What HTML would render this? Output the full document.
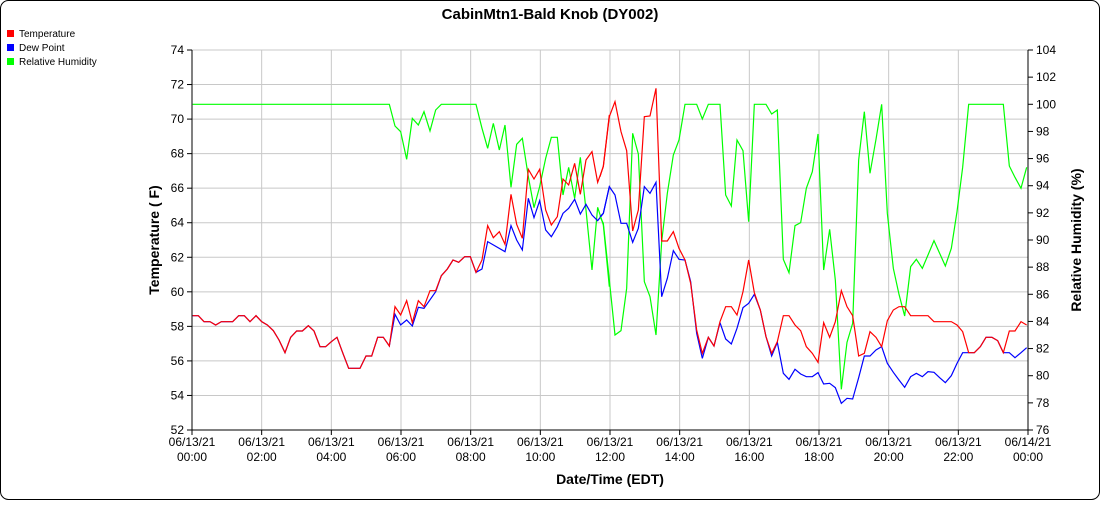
<!DOCTYPE html>
<html><head><style>body{margin:0;background:#fff}</style></head><body>
<svg width="1100" height="500" xmlns="http://www.w3.org/2000/svg" font-family="Liberation Sans, sans-serif">
<rect x="0.5" y="0.5" width="1099" height="499" rx="8" fill="#fff" stroke="#000"/>
<text x="550" y="19" text-anchor="middle" font-size="15" font-weight="bold">CabinMtn1-Bald Knob (DY002)</text>
<g font-size="10">
<rect x="7" y="30" width="7" height="7" fill="#f00"/><text x="19" y="37">Temperature</text>
<rect x="7" y="44" width="7" height="7" fill="#00f"/><text x="19" y="51">Dew Point</text>
<rect x="7" y="58" width="7" height="7" fill="#0f0"/><text x="19" y="65">Relative Humidity</text>
</g>
<g stroke="#c8c8c8" stroke-width="1" id="grid"></g>
<g id="lab" font-size="12"></g>
<g transform="translate(190,80) scale(0.33333)" fill="none" stroke-width="1.2" >
<polyline vector-effect="non-scaling-stroke" stroke="#0f0" points="8,73 598,73 615,138 632,155 650,238 667,115 685,135 702,95 720,153 737,90 754,73 858,73 876,145 893,205 910,130 928,210 945,135 963,322 980,193 997,175 1015,290 1032,383 1049,320 1067,235 1084,172 1102,172 1119,345 1136,262 1154,355 1171,232 1188,390 1206,570 1223,382 1240,435 1258,620"/>
<polyline vector-effect="non-scaling-stroke" stroke="#00f" points="8,707 25,707 42,725 60,725 77,735 94,725 128,725 146,707 163,707 180,725 198,707 215,725 232,735 250,752 267,780 285,818 302,772 320,753 337,753 355,737 372,753 390,800 407,800 424,785 441,772 458,818 476,865 510,865 528,828 545,828 563,772 580,772 598,798 615,703 632,735 650,720 667,738 685,682 702,685 737,635 754,587 772,567 789,540 806,547 824,530 841,530 858,577 876,567 893,485 945,515 963,437 980,480 997,510 1015,355 1032,413 1049,362 1067,450 1084,470 1102,440 1119,400 1136,385 1154,358 1171,402 1188,373 1206,405 1223,422 1240,400 1258,320"/>
<polyline vector-effect="non-scaling-stroke" stroke="#f00" points="8,707 25,707 42,725 60,725 77,735 94,725 128,725 146,707 163,707 180,725 198,707 215,725 232,735 250,752 267,780 285,818 302,772 320,753 337,753 355,737 372,753 390,800 407,800 424,785 441,772 458,818 476,865 510,865 528,828 545,828 563,772 580,772 598,798 615,680 632,705 650,662 667,728 685,662 702,680 720,632 737,632 754,587 772,567 789,540 806,547 824,530 841,530 858,577 876,540 893,437 910,473 928,455 945,493 963,343 980,433 997,475 1015,268 1032,297 1049,268 1067,390 1084,435 1102,410 1119,297 1136,315 1154,250 1171,343 1188,240 1206,215 1223,307 1240,260 1258,105"/>
</g>
<g transform="translate(600,80) scale(0.33333)" fill="none" stroke-width="1.2">
<polyline vector-effect="non-scaling-stroke" stroke="#0f0" points="0,410 10,430 28,600 45,765 63,752 80,625 98,160 115,222 133,605 150,650 168,765 185,485 202,340 220,225 237,180 255,73 290,73 307,117 325,73 360,73 377,345 394,378 411,180 429,212 446,425 463,73 498,73 515,102 532,90 550,538 567,578 585,437 602,428 619,325 637,275 654,162 671,570 689,448 706,600 724,928 741,787 758,730 776,240 793,95 810,280 828,178 845,73 862,400 880,565 897,643 914,708 932,560 949,538 967,565 984,525 1002,482 1019,520 1036,558 1054,505 1071,395 1088,262 1106,73 1210,73 1228,258 1245,292 1263,325 1280,262"/>
<polyline vector-effect="non-scaling-stroke" stroke="#00f" points="0,410 10,400 28,320 45,345 63,430 80,430 98,487 115,445 133,320 150,340 168,307 185,650 202,595 220,512 237,538 255,540 272,605 290,760 307,835 325,772 342,798 360,728 377,777 394,792 411,745 429,683 446,670 463,643 481,690 498,770 515,828 532,787 550,880 567,898 585,868 602,882 619,890 637,890 654,878 671,912 689,910 706,923 724,970 741,955 758,957 776,893 793,828 810,828 828,810 845,800 862,850 880,877 897,900 914,922 932,890 949,880 967,890 984,875 1002,877 1019,893 1036,908 1054,887 1071,850 1088,818 1106,818 1123,818 1141,800 1158,772 1176,772 1193,782 1210,818 1228,818 1245,833 1263,818 1280,803"/>
<polyline vector-effect="non-scaling-stroke" stroke="#f00" points="0,290 10,258 28,110 45,65 63,155 80,212 98,453 115,390 133,110 150,108 168,25 185,483 202,483 220,455 237,505 255,540 272,610 290,750 307,820 325,772 342,798 360,725 377,680 394,680 411,705 429,635 446,540 463,638 481,690 498,770 515,820 532,785 550,707 567,707 585,735 602,752 619,800 637,820 654,847 671,728 689,772 706,725 724,632 741,680 758,707 776,828 793,820 810,755 828,772 845,800 862,722 880,690 897,680 914,680 932,707 984,707 1002,725 1054,725 1071,735 1088,755 1106,818 1123,818 1141,800 1158,772 1176,772 1193,782 1210,818 1228,753 1245,753 1263,725 1280,735"/>
</g>
<line x1="192" y1="50" x2="192" y2="430" stroke="#000"/>
<line x1="1028" y1="50" x2="1028" y2="430" stroke="#000"/>
<text transform="translate(159,240) rotate(-90)" text-anchor="middle" font-size="14" font-weight="bold">Temperature ( F)</text>
<text transform="translate(1081,240) rotate(-90)" text-anchor="middle" font-size="14" font-weight="bold">Relative Humidity (%)</text>
<text x="610" y="484" text-anchor="middle" font-size="14" font-weight="bold">Date/Time (EDT)</text>
<script>
var ns="http://www.w3.org/2000/svg",g=document.getElementById('grid'),l=document.getElementById('lab');
function el(p,t,a,txt){var e=document.createElementNS(ns,t);for(var k in a)e.setAttribute(k,a[k]);if(txt)e.textContent=txt;p.appendChild(e);return e;}
for(var i=0;i<=11;i++){var y=50+i*380/11;var v=74-2*i;
 if(i>0&&i<11)el(g,'line',{x1:192,x2:1028,y1:y,y2:y});
 el(l,'line',{x1:187,x2:192,y1:y,y2:y,stroke:'#000'});
 el(l,'text',{x:184,y:y+4,'text-anchor':'end'},v);}
for(var i=0;i<=14;i++){var y=50+i*380/14;var v=104-2*i;
 el(l,'line',{x1:1028,x2:1033,y1:y,y2:y,stroke:'#000'});
 el(l,'text',{x:1036,y:y+4},v);}
var d=['06/13/21','06/13/21','06/13/21','06/13/21','06/13/21','06/13/21','06/13/21','06/13/21','06/13/21','06/13/21','06/13/21','06/13/21','06/14/21'];
for(var i=0;i<=12;i++){var x=192+i*836/12;
 if(i>0&&i<12)el(g,'line',{x1:x,x2:x,y1:50,y2:430});
 el(l,'line',{x1:x,x2:x,y1:430,y2:435,stroke:'#000'});
 el(l,'text',{x:x,y:446,'text-anchor':'middle'},d[i]);
 var h=(i*2)%24;el(l,'text',{x:x,y:461,'text-anchor':'middle'},(h<10?'0':'')+h+':00');}
el(g,'line',{x1:192,x2:1028,y1:50,y2:50});el(g,'line',{x1:192,x2:1028,y1:430,y2:430,stroke:'#000'});
</script>
</svg>
</body></html>
